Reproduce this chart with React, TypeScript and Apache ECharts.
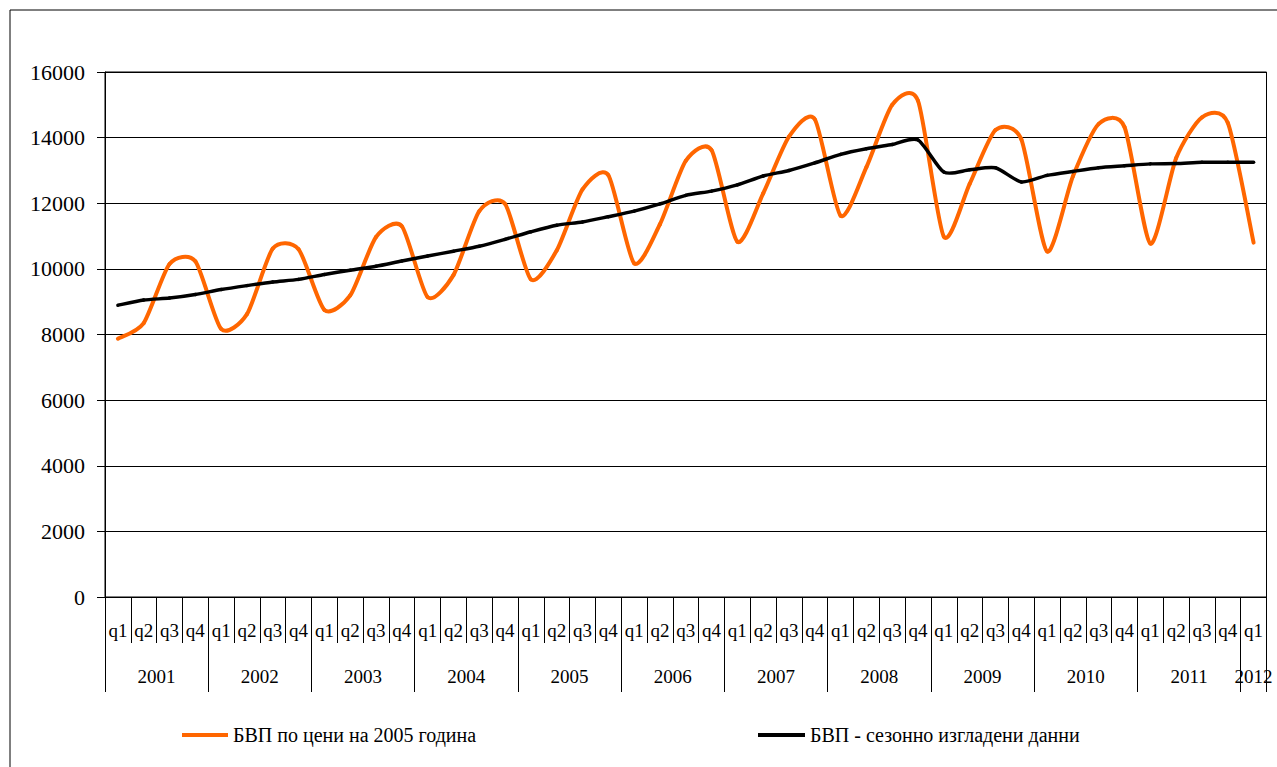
import React, { useEffect, useRef } from "react";
import * as echarts from "echarts";

const YEARS = ["2001", "2002", "2003", "2004", "2005", "2006", "2007", "2008", "2009", "2010", "2011", "2012"];

const QUARTERS = [
  "q1", "q2", "q3", "q4", "q1", "q2", "q3", "q4", "q1", "q2", "q3", "q4",
  "q1", "q2", "q3", "q4", "q1", "q2", "q3", "q4", "q1", "q2", "q3", "q4",
  "q1", "q2", "q3", "q4", "q1", "q2", "q3", "q4", "q1", "q2", "q3", "q4",
  "q1", "q2", "q3", "q4", "q1", "q2", "q3", "q4", "q1",
];

const SERIES_GDP = "БВП по цени на 2005 година";
const SERIES_SA = "БВП - сезонно изгладени данни";

const GDP = [
  7870, 8350, 10150, 10230,
  8170, 8620, 10620, 10600,
  8750, 9190, 10970, 11300,
  9140, 9810, 11760, 11980,
  9680, 10560, 12420, 12860,
  10170, 11360, 13290, 13620,
  10830, 12300, 14030, 14560,
  11620, 13100, 15000, 15120,
  10980, 12590, 14230, 13950,
  10530, 12820, 14420, 14320,
  10770, 13380, 14620, 14450,
  10800,
];

const GDP_SA = [
  8890, 9050, 9110, 9220,
  9370, 9490, 9600, 9680,
  9830, 9960, 10080, 10240,
  10390, 10540, 10690, 10900,
  11130, 11330, 11430, 11590,
  11760, 11980, 12240, 12370,
  12560, 12830, 13000, 13230,
  13490, 13660, 13790, 13930,
  12950, 13020, 13080, 12650,
  12850, 12970, 13080, 13140,
  13200, 13210, 13250, 13250,
  13250,
];

const FONT = "'Times New Roman', 'Liberation Serif', serif";

// Smoothed line (Bezier through the points, Excel-like), drawn as a custom series
function smoothSeries(name: string, values: number[], color: string, width: number) {
  const n = values.length;
  return {
    name,
    type: "custom",
    coordinateSystem: "cartesian2d",
    xAxisIndex: 0,
    yAxisIndex: 0,
    data: values.map((v, i) => [i, v]),
    encode: { x: 0, y: 1 },
    itemStyle: { color },
    renderItem: (params: any, api: any) => {
      const i = params.dataIndex;
      if (i >= n - 1) return { type: "group", children: [] };
      const c = (j: number) => {
        const k = Math.max(0, Math.min(n - 1, j));
        return api.coord([k, values[k]]);
      };
      const p0 = c(i - 1);
      const p1 = c(i);
      const p2 = c(i + 1);
      const p3 = c(i + 2);
      const t = 0.12;
      return {
        type: "bezierCurve",
        shape: {
          x1: p1[0],
          y1: p1[1],
          x2: p2[0],
          y2: p2[1],
          cpx1: p1[0] + (p2[0] - p0[0]) * t,
          cpy1: p1[1] + (p2[1] - p0[1]) * t,
          cpx2: p2[0] - (p3[0] - p1[0]) * t,
          cpy2: p2[1] - (p3[1] - p1[1]) * t,
        },
        style: { stroke: color, lineWidth: width, fill: "none", lineCap: "round" },
        silent: true,
      };
    },
  };
}

export default function App() {
  const ref = useRef<HTMLDivElement>(null);

  useEffect(() => {
    if (!ref.current) return;
    const chart = echarts.init(ref.current, undefined, { renderer: "svg" });
    const yearLabel = (v: number) => {
      if (Math.abs(v - 44.5) < 1e-6) return YEARS[11];
      const k = (v - 2) / 4;
      if (Number.isInteger(k) && k >= 0 && k < 11) return YEARS[k];
      return "";
    };
    chart.setOption({
      animation: false,
      textStyle: { fontFamily: FONT, color: "#000" },
      grid: {
        left: 105,
        top: 72,
        right: 10.5,
        bottom: 170,
        show: true,
        borderColor: "#000",
        borderWidth: 1,
        backgroundColor: "transparent",
      },
      xAxis: [
        {
          type: "category",
          data: QUARTERS,
          boundaryGap: true,
          position: "bottom",
          axisLine: { show: true, lineStyle: { color: "#000", width: 1 } },
          axisTick: { show: true, interval: 0, length: 46, lineStyle: { color: "#000" } },
          axisLabel: { interval: 0, margin: 24, fontSize: 19, color: "#000", fontFamily: FONT },
          splitLine: { show: false },
        },
        {
          type: "value",
          min: 0,
          max: 45,
          interval: 4,
          position: "bottom",
          axisLine: { show: false },
          axisTick: { show: true, length: 95, lineStyle: { color: "#000" } },
          axisLabel: { show: false },
          splitLine: { show: false },
        },
        {
          type: "value",
          min: 0,
          max: 45,
          interval: 0.5,
          position: "bottom",
          axisLine: { show: false },
          axisTick: { show: false },
          axisLabel: { margin: 70, fontSize: 19, color: "#000", fontFamily: FONT, formatter: yearLabel },
          splitLine: { show: false },
        },
      ],
      yAxis: {
        type: "value",
        min: 0,
        max: 16000,
        interval: 2000,
        axisLine: { show: true, lineStyle: { color: "#000" } },
        axisTick: { show: true, length: 8, lineStyle: { color: "#000" } },
        axisLabel: {
          margin: 20,
          fontSize: 22,
          color: "#000",
          fontFamily: FONT,
          formatter: (v: number) => String(v),
        },
        splitLine: { show: true, lineStyle: { color: "#000", width: 1 } },
      },
      legend: [
        {
          data: [SERIES_GDP],
          left: 182,
          top: 725,
          padding: 0,
          icon: "rect",
          itemWidth: 46,
          itemHeight: 4,
          textStyle: { fontSize: 20, color: "#000", fontFamily: FONT },
        },
        {
          data: [SERIES_SA],
          left: 758,
          top: 725,
          padding: 0,
          icon: "rect",
          itemWidth: 47,
          itemHeight: 4,
          textStyle: { fontSize: 20, color: "#000", fontFamily: FONT },
        },
      ],
      series: [
        smoothSeries(SERIES_GDP, GDP, "#FF6600", 4),
        smoothSeries(SERIES_SA, GDP_SA, "#000000", 3.5),
      ],
      graphic: [
        {
          type: "rect",
          silent: true,
          shape: { x: 10, y: 10, width: 1300, height: 800 },
          style: { fill: "none", stroke: "#000", lineWidth: 1 },
        },
      ],
    });
    return () => chart.dispose();
  }, []);

  return (
    <div
      ref={ref}
      style={{ position: "fixed", left: 0, top: 0, width: 1277, height: 767, background: "#fff" }}
    />
  );
}
